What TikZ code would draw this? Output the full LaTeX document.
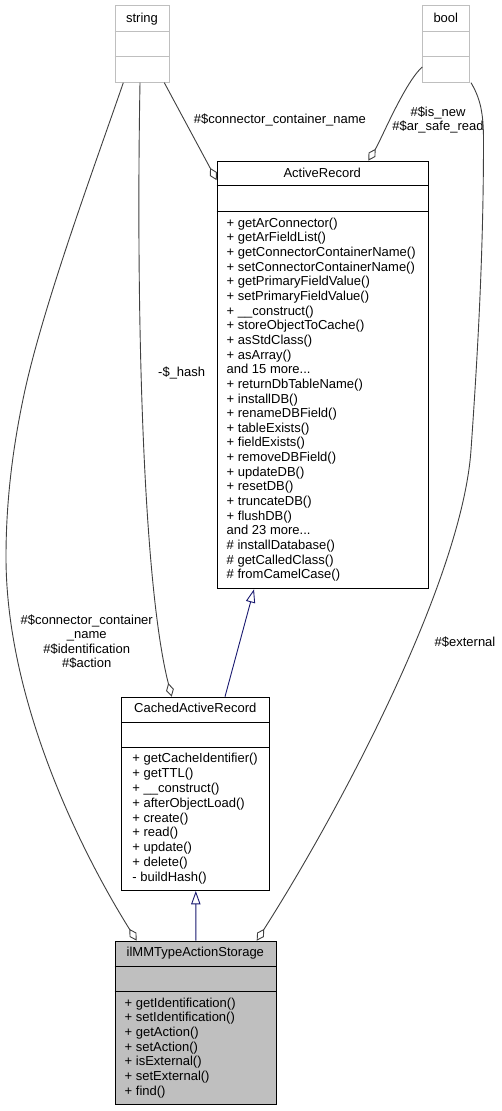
\documentclass[tikz,border=0pt]{standalone}
\usepackage{fontspec}
\setmainfont{Liberation Sans}
\usetikzlibrary{calc,arrows.meta}
\definecolor{edgegray}{HTML}{404040}
\definecolor{boxgray}{HTML}{BFBFBF}
\definecolor{navyblue}{HTML}{191970}
\newcommand\dfont{\fontsize{13}{14.6}\selectfont}
\newcommand\lfont{\fontsize{13}{14.4}\selectfont}
\newcommand\dotsthree{...}
\begin{document}
\begin{tikzpicture}[x=1pt,y=-1pt,
  cls/.style={draw=black, line width=1pt, rectangle, inner sep=0pt, anchor=north west},
  ext/.style={draw=boxgray, line width=1pt, rectangle, inner sep=0pt, anchor=north west},
  divider/.style={draw=black, line width=1pt},
  extdivider/.style={draw=boxgray, line width=1pt},
  txt/.style={inner sep=0pt, anchor=base west, font=\dfont},
  ttl/.style={inner sep=0pt, anchor=base, font=\dfont},
  lbl/.style={inner sep=0pt, align=center, font=\lfont},
  assoc/.style={draw=edgegray, line width=0.9pt, line join=miter, -{Diamond[length=14pt,width=8pt,fill=white]}},
  inherit/.style={draw=navyblue, line width=0.9pt, line join=miter, -{Triangle[length=13.3pt,width=9.3pt,fill=white]}}]
\useasboundingbox (0,0) rectangle (502,1111);
\fill[white] (0,0) rectangle (502,1111);

% string
\node[ext, minimum width=54.6pt, minimum height=76.4pt] (string) at (114.7,5.3) {};
\draw[extdivider] ($(string.north west)+(0,26.4)$) -- ($(string.north east)+(0,26.4)$);
\draw[extdivider] ($(string.north west)+(0,51.4)$) -- ($(string.north east)+(0,51.4)$);
\node[ttl] (stringt) at (142,22.5) {string};

% bool
\node[ext, minimum width=47pt, minimum height=76.4pt] (bool) at (422.3,5.3) {};
\draw[extdivider] ($(bool.north west)+(0,26.4)$) -- ($(bool.north east)+(0,26.4)$);
\draw[extdivider] ($(bool.north west)+(0,51.4)$) -- ($(bool.north east)+(0,51.4)$);
\node[ttl] (boolt) at (445.8,22.5) {bool};

% ActiveRecord
\node[cls, minimum width=211pt, minimum height=427.6pt] (ar) at (216.7,160.7) {};
\draw[divider] ($(ar.north west)+(0,25)$) -- ($(ar.north east)+(0,25)$);
\draw[divider] ($(ar.north west)+(0,50.3)$) -- ($(ar.north east)+(0,50.3)$);
\node[ttl] (art) at (322.2,177.7) {ActiveRecord};
\foreach \t [count=\i from 0] in {%
  {+ getArConnector()}, {+ getArFieldList()}, {+ getConnectorContainerName()},
  {+ setConnectorContainerName()}, {+ getPrimaryFieldValue()}, {+ setPrimaryFieldValue()},
  {+ \_\_construct()}, {+ storeObjectToCache()}, {+ asStdClass()}, {+ asArray()},
  {and 15 more\dotsthree}, {+ returnDbTableName()}, {+ installDB()}, {+ renameDBField()},
  {+ tableExists()}, {+ fieldExists()}, {+ removeDBField()}, {+ updateDB()}, {+ resetDB()},
  {+ truncateDB()}, {+ flushDB()}, {and 23 more\dotsthree}, {\# installDatabase()},
  {\# getCalledClass()}, {\# fromCamelCase()}}
  \node[txt] (arm\i) at (226.5,227.2+\i*14.65) {\t};

% CachedActiveRecord
\node[cls, minimum width=148pt, minimum height=193.3pt] (car) at (121.3,696.7) {};
\draw[divider] ($(car.north west)+(0,25.3)$) -- ($(car.north east)+(0,25.3)$);
\draw[divider] ($(car.north west)+(0,50.6)$) -- ($(car.north east)+(0,50.6)$);
\node[ttl] (cart) at (195.3,712.8) {CachedActiveRecord};
\foreach \t [count=\i from 0] in {%
  {+ getCacheIdentifier()}, {+ getTTL()}, {+ \_\_construct()}, {+ afterObjectLoad()},
  {+ create()}, {+ read()}, {+ update()}, {+ delete()}, {- buildHash()}}
  \node[txt] (carm\i) at (132.2,762.8+\i*14.8) {\t};

% ilMMTypeActionStorage
\node[cls, fill=boxgray, minimum width=161.3pt, minimum height=163.3pt] (ilmm) at (114.7,940.7) {};
\draw[divider] ($(ilmm.north west)+(0,25.3)$) -- ($(ilmm.north east)+(0,25.3)$);
\draw[divider] ($(ilmm.north west)+(0,50.6)$) -- ($(ilmm.north east)+(0,50.6)$);
\node[ttl] (ilmmt) at (195.35,956.8) {ilMMTypeActionStorage};
\foreach \t [count=\i from 0] in {%
  {+ getIdentification()}, {+ setIdentification()}, {+ getAction()}, {+ setAction()},
  {+ isExternal()}, {+ setExternal()}, {+ find()}}
  \node[txt] (ilmmm\i) at (124.5,1007.2+\i*14.67) {\t};

% connectors
\draw[assoc] ($(string.south east)+(-6,0)$) -- ($(ar.north west)+(0,19.5)$);
\draw[assoc] ($(bool.south west)+(0,-15.7)$) .. controls (405,82) and (381,140) .. ($(ar.north west)+(151.6,0)$);
\draw[assoc] ($(bool.south east)+(0.7,0)$) .. controls (480,98) and (483.5,112) .. (483.5,140)
   .. controls (483.5,250) and (478,350) .. (471,450)
   .. controls (462,580) and (340,810) .. ($(ilmm.north west)+(142,0)$);
\draw[assoc] ($(string.south west)+(8.6,0)$) .. controls (95,165) and (45,300) .. (25,390)
   .. controls (13,445) and (6,500) .. (6,557)
   .. controls (6,700) and (80,850) .. ($(ilmm.north west)+(22,0)$);
\draw[assoc] ($(string.south west)+(25.3,0)$) .. controls (136,300) and (142,580) .. ($(car.north west)+(50.4,0)$);
\draw[inherit] ($(car.north west)+(103.7,0)$) -- ($(ar.south west)+(37.3,0)$);
\draw[inherit] (ilmm.north) -- (car.south);

% labels
\node[lbl] (l1) at (280,120) {\#\$connector\_container\_name};
\node[lbl] (l2) at (438,119.7) {\#\$is\_new\\\#\$ar\_safe\_read};
\node[lbl] (l3) at (181.7,373.3) {-\$\_hash};
\node[lbl] (l4) at (86.7,641.6) {\#\$connector\_container\\\_name\\\#\$identification\\\#\$action};
\node[lbl] (l5) at (465,641.7) {\#\$external};
\end{tikzpicture}
\end{document}
